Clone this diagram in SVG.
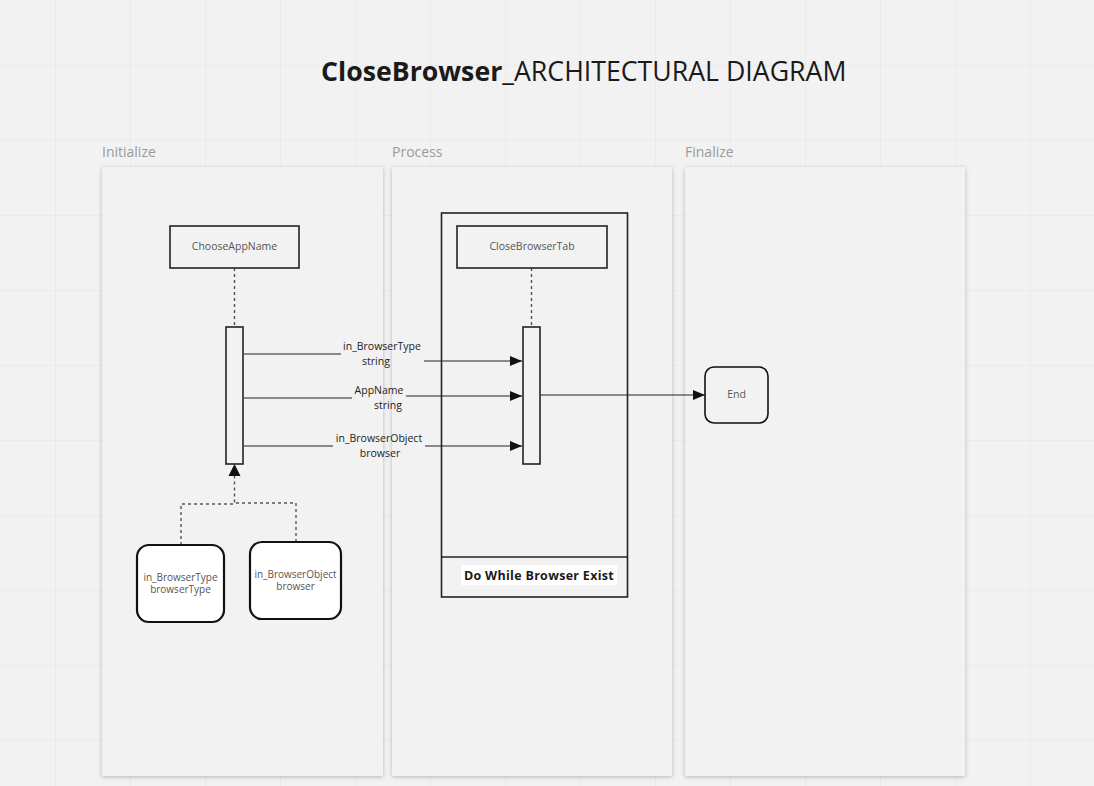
<svg xmlns="http://www.w3.org/2000/svg" width="1094" height="786" viewBox="0 0 1094 786">
<defs>
  <pattern id="grid" x="-19" y="-9" width="75" height="75" patternUnits="userSpaceOnUse">
    <path d="M75 0V75M0 75H75" fill="none" stroke="#e4e4e4" stroke-width="1"/>
  </pattern>
  <filter id="shadow" x="-10%" y="-5%" width="120%" height="110%">
    <feDropShadow dx="0" dy="1" stdDeviation="2" flood-color="#000" flood-opacity="0.25"/>
  </filter>
  <marker id="arr" markerWidth="12" markerHeight="10" refX="12" refY="5" orient="auto" markerUnits="userSpaceOnUse">
    <path d="M0,0 L12,5 L0,10 Z" fill="#111"/>
  </marker>
</defs>
<style>
  .lane { fill: #f2f2f2; filter: url(#shadow); }
  .lanelbl { font-family: "Open Sans", "Noto Sans", sans-serif; font-size: 14px; fill: #9a9a9a; }
  .box { fill: #f2f2f2; stroke: #222; stroke-width: 1.6; }
  .rnd { fill: #fff; stroke: #111; stroke-width: 2.2; }
  .t { font-family: "Open Sans", "Noto Sans", sans-serif; font-size: 10.5px; fill: #555; text-anchor: middle; }
  .t2 { font-family: "Open Sans", "Noto Sans", sans-serif; font-size: 10px; fill: #555; text-anchor: middle; }
  .lbl { font-family: "Open Sans", "Noto Sans", sans-serif; font-size: 10.5px; fill: #222; text-anchor: middle; }
  .dash { fill: none; stroke: #555; stroke-width: 1.4; stroke-dasharray: 3 3; }
  .msg { fill: none; stroke: #222; stroke-width: 1.2; }
</style>
<rect width="1094" height="786" fill="#f2f2f2"/>
<rect width="1094" height="786" fill="url(#grid)"/>

<text x="321" y="81" font-family="'Open Sans', 'Noto Sans', sans-serif" font-size="26.7" fill="#1a1a1a"><tspan font-weight="bold">CloseBrowser</tspan>_ARCHITECTURAL DIAGRAM</text>

<g id="lane-initialize">
  <rect class="lane" x="102" y="167" width="281" height="609"/>
  <text class="lanelbl" x="102" y="157">Initialize</text>
</g>
<g id="lane-process">
  <rect class="lane" x="392" y="167" width="280" height="609"/>
  <text class="lanelbl" x="392" y="157">Process</text>
</g>
<g id="lane-finalize">
  <rect class="lane" x="685" y="167" width="280" height="609"/>
  <text class="lanelbl" x="685" y="157">Finalize</text>
</g>

<g id="loop-frame">
  <rect x="441.5" y="213" width="186" height="384" fill="none" stroke="#222" stroke-width="1.6"/>
  <line x1="441.5" y1="557" x2="627.5" y2="557" stroke="#222" stroke-width="1.6"/>
  <rect x="461" y="565" width="156" height="20" fill="#fff"/>
  <text x="539" y="580" text-anchor="middle" font-family="'Open Sans', 'Noto Sans', sans-serif" font-size="12.5" font-weight="bold" fill="#1a1a1a" letter-spacing="0.3">Do While Browser Exist</text>
</g>

<g id="connectors">
  <line class="dash" x1="234.5" y1="268" x2="234.5" y2="327"/>
  <line class="dash" x1="531.5" y1="268" x2="531.5" y2="327"/>
  <line class="msg" x1="244" y1="354" x2="341" y2="354"/>
  <line class="msg" x1="424" y1="361" x2="522" y2="361" marker-end="url(#arr)"/>
  <line class="msg" x1="244" y1="398" x2="352" y2="398"/>
  <line class="msg" x1="406" y1="396" x2="522" y2="396" marker-end="url(#arr)"/>
  <line class="msg" x1="244" y1="446" x2="333" y2="446"/>
  <line class="msg" x1="425" y1="446" x2="522" y2="446" marker-end="url(#arr)"/>
  <line class="msg" x1="541" y1="395" x2="705" y2="395" marker-end="url(#arr)"/>
  <path class="dash" d="M181,545 V504 H234.5 V476"/>
  <path class="dash" d="M296,542 V503 H234.5"/>
  <path d="M228.5,476 L234.5,464 L240.5,476 Z" fill="#111"/>
  <text class="lbl" x="382" y="350">in_BrowserType</text>
  <text class="lbl" x="376" y="365">string</text>
  <text class="lbl" x="379" y="394">AppName</text>
  <text class="lbl" x="388" y="409">string</text>
  <text class="lbl" x="379" y="442">in_BrowserObject</text>
  <text class="lbl" x="380" y="457">browser</text>
</g>

<g id="node-chooseappname">
  <rect class="box" x="170" y="226" width="129" height="42"/>
  <text class="t" x="234.5" y="250">ChooseAppName</text>
</g>
<g id="node-activation-left">
  <rect class="box" x="226" y="327" width="17" height="137"/>
</g>
<g id="node-closebrowsertab">
  <rect class="box" x="457" y="226" width="150" height="42"/>
  <text class="t" x="532" y="250">CloseBrowserTab</text>
</g>
<g id="node-activation-right">
  <rect class="box" x="523" y="327" width="17" height="137"/>
</g>
<g id="node-end">
  <rect x="705" y="367" width="63" height="56" rx="9" fill="#f2f2f2" stroke="#111" stroke-width="1.6"/>
  <text class="t" x="736.5" y="398">End</text>
</g>
<g id="node-in-browsertype">
  <rect class="rnd" x="137" y="545" width="87" height="77" rx="12"/>
  <text class="t2" x="180.5" y="581">in_BrowserType</text>
  <text class="t2" x="180.5" y="593">browserType</text>
</g>
<g id="node-in-browserobject">
  <rect class="rnd" x="250" y="542" width="91" height="77" rx="12"/>
  <text class="t2" x="295.5" y="578">in_BrowserObject</text>
  <text class="t2" x="295.5" y="590">browser</text>
</g>
</svg>
